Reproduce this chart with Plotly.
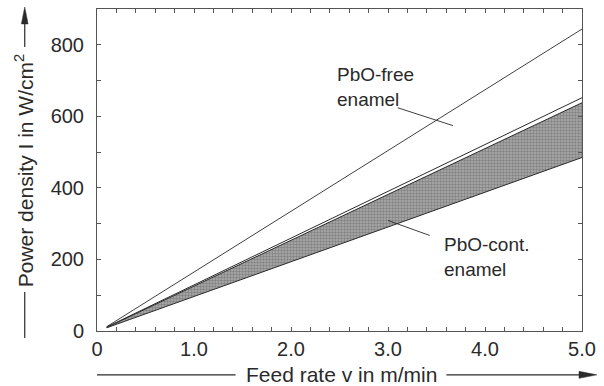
import plotly.graph_objects as go

# ---- data ----
feed_rate = [0.1, 5.0]                 # m/min
pbo_free_upper = [12, 844]             # W/cm^2
pbo_free_lower = [11, 652]
pbo_cont_upper = [10, 638]
pbo_cont_lower = [9, 485]

x_ticks = [0, 1, 2, 3, 4, 5]
x_tick_text = ["0", "1.0", "2.0", "3.0", "4.0", "5.0"]
y_ticks = [0, 200, 400, 600, 800]

# ---- layout geometry (pixels) ----
W, H = 604, 386
ML, MR, MT, MB = 97, 17, 8, 55
PW, PH = W - ML - MR, H - MT - MB
FONT = "Liberation Sans, Arial, Helvetica, sans-serif"
INK = "#2a2a2a"
AX = "#555555"


def px(xp):
    return (xp - ML) / PW


def py(yp):
    return (H - MB - yp) / PH


fig = go.Figure()

fig.add_trace(go.Scatter(x=feed_rate, y=pbo_free_upper, mode="lines",
                         line=dict(color=INK, width=0.9), showlegend=False))
fig.add_trace(go.Scatter(x=feed_rate, y=pbo_free_lower, mode="lines",
                         line=dict(color=INK, width=1), showlegend=False))
fig.add_trace(go.Scatter(x=feed_rate, y=pbo_cont_lower, mode="lines",
                         line=dict(color=INK, width=1), showlegend=False))
fig.add_trace(go.Scatter(x=feed_rate, y=pbo_cont_upper, mode="lines",
                         line=dict(color=INK, width=1), fill="tonexty",
                         fillcolor="#9c9c9c",
                         fillpattern=dict(shape=".", size=3, solidity=0.5,
                                          fgcolor="#5a5a5a", bgcolor="#ababab"),
                         showlegend=False))
# invisible companion trace so the mirrored (top/right) tick axes get drawn
fig.add_trace(go.Scatter(x=feed_rate, y=pbo_free_upper, xaxis="x2", yaxis="y2",
                         mode="lines", line=dict(width=0, color="rgba(0,0,0,0)"),
                         hoverinfo="skip", showlegend=False))

shapes = []
# leader lines for labels (data coords)
shapes.append(dict(type="line", xref="x", yref="y", x0=3.10, y0=624, x1=3.67, y1=574,
                   line=dict(color=INK, width=0.9)))
shapes.append(dict(type="line", xref="x", yref="y", x0=3.00, y0=309, x1=3.43, y1=267,
                   line=dict(color=INK, width=0.9)))

# x-axis title rules and arrow (pixels -> paper)
yx = 375
shapes.append(dict(type="line", xref="paper", yref="paper", x0=px(97), y0=py(yx),
                   x1=px(237), y1=py(yx), line=dict(color=INK, width=1.2)))
shapes.append(dict(type="line", xref="paper", yref="paper", x0=px(450), y0=py(yx),
                   x1=px(586), y1=py(yx), line=dict(color=INK, width=1.2)))
shapes.append(dict(type="path", xref="paper", yref="paper",
                   path=f"M {px(602)},{py(yx)} L {px(584)},{py(yx-3.5)} L {px(584)},{py(yx+3.5)} Z",
                   fillcolor=INK, line=dict(color=INK, width=0.5)))

# y-axis title rules and arrow
xy = 24
shapes.append(dict(type="line", xref="paper", yref="paper", x0=px(xy), y0=py(292),
                   x1=px(xy), y1=py(338), line=dict(color=INK, width=1.2)))
shapes.append(dict(type="line", xref="paper", yref="paper", x0=px(xy), y0=py(22),
                   x1=px(xy), y1=py(46), line=dict(color=INK, width=1.2)))
shapes.append(dict(type="path", xref="paper", yref="paper",
                   path=f"M {px(xy)},{py(6)} L {px(xy-3.4)},{py(23)} L {px(xy+3.4)},{py(23)} Z",
                   fillcolor=INK, line=dict(color=INK, width=0.5)))

annotations = [
    dict(text="PbO-free<br>enamel", x=2.45, y=682, xref="x", yref="y",
         xanchor="left", yanchor="middle", align="left", showarrow=False,
         font=dict(family=FONT, size=19, color=INK)),
    dict(text="PbO-cont.<br>enamel", x=3.56, y=208, xref="x", yref="y",
         xanchor="left", yanchor="middle", align="left", showarrow=False,
         font=dict(family=FONT, size=19, color=INK)),
    dict(text="Feed rate v in m/min", x=px(344), y=py(375), xref="paper", yref="paper",
         xanchor="center", yanchor="middle", showarrow=False,
         font=dict(family=FONT, size=21, color=INK)),
    dict(text="Power density I in W/cm<sup>2</sup>", x=px(24), y=py(170),
         xref="paper", yref="paper", xanchor="center", yanchor="middle",
         textangle=-90, showarrow=False,
         font=dict(family=FONT, size=21, color=INK)),
]

axis_common = dict(showline=True, linecolor=AX, linewidth=1, mirror=True,
                   ticks="inside", ticklen=4, tickcolor=AX, tickwidth=1,
                   showgrid=False, zeroline=False,
                   tickfont=dict(family=FONT, size=20, color=INK))

mirror_common = dict(showticklabels=False, ticks="inside", ticklen=4, tickcolor=AX,
                     tickwidth=1, showgrid=False, zeroline=False, showline=False)

fig.update_layout(
    width=W, height=H,
    margin=dict(l=ML, r=MR, t=MT, b=MB, pad=0),
    paper_bgcolor="white", plot_bgcolor="white",
    shapes=shapes, annotations=annotations,
    xaxis=dict(range=[0, 5], tickvals=x_ticks, ticktext=x_tick_text,
               minor=dict(dtick=0.2, ticks="inside", ticklen=4, tickcolor=AX),
               **axis_common),
    yaxis=dict(range=[0, 900], tickvals=y_ticks,
               minor=dict(dtick=100, ticks="inside", ticklen=4, tickcolor=AX),
               ticklabelstandoff=8,
               **axis_common),
    # mirrored tick marks on top and right edges
    xaxis2=dict(overlaying="x", side="top", anchor="y2", range=[0, 5],
                tickvals=x_ticks,
                minor=dict(dtick=0.2, ticks="inside", ticklen=4, tickcolor=AX),
                **mirror_common),
    yaxis2=dict(overlaying="y", side="right", anchor="x2", range=[0, 900],
                tickvals=y_ticks,
                minor=dict(dtick=100, ticks="inside", ticklen=4, tickcolor=AX),
                **mirror_common),
)

fig.write_html("out.html")
